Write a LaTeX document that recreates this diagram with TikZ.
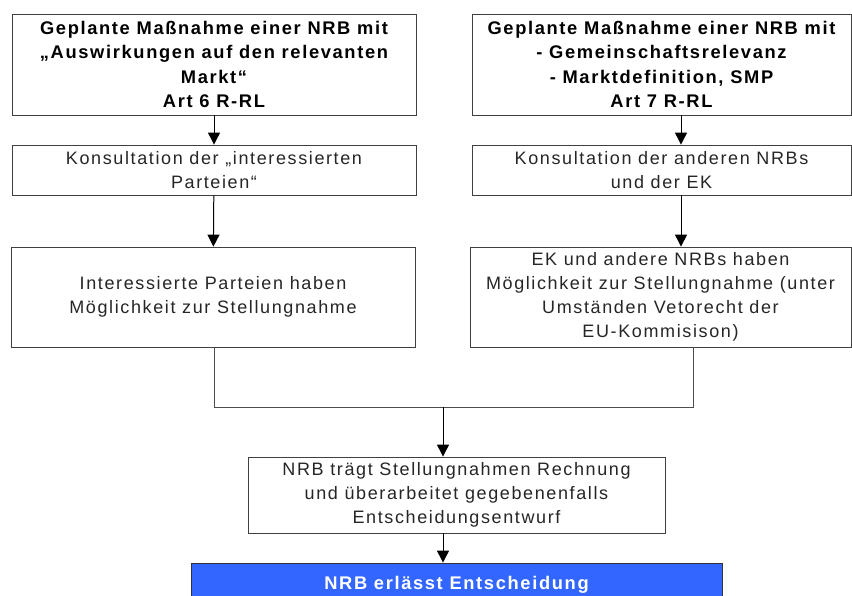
\documentclass[tikz,border=0pt]{standalone}
\usepackage{fontspec}
\usetikzlibrary{arrows.meta}
\newfontfamily\chartfont[LetterSpace=9]{Liberation Sans}
\definecolor{decblue}{RGB}{51,102,255}
\begin{document}
\begin{tikzpicture}[x=1pt,y=-1pt]

\tikzset{box/.style={draw=black!75,line width=0.8pt,fill=white,align=center,inner sep=0pt,
    font=\chartfont\fontsize{18}{24}\selectfont,text=black!85}}
\tikzset{head/.style={box,font=\chartfont\bfseries\fontsize{18.3}{24.3}\selectfont,text=black}}
\tikzset{arr/.style={black,line width=1pt,-{Triangle[width=12pt,length=12pt]}}}
\tikzset{link/.style={black!70,line width=0.8pt}}

\useasboundingbox (0,0) rectangle (852,596);
\clip (0,0) rectangle (852,596);

% Art 6 branch
\path (214,64.5) node[head,minimum width=404,minimum height=101] (art6)
    {Geplante Maßnahme einer NRB mit\\„Auswirkungen auf den relevanten\\Markt“\\Art 6 R-RL};
\path (214,170) node[box,minimum width=404,minimum height=50] (konsL)
    {Konsultation der „interessierten\\Parteien“};
\path (213,297) node[box,minimum width=404,minimum height=100] (stellL)
    {Interessierte Parteien haben\\Möglichkeit zur Stellungnahme};

% Art 7 branch
\path (661.5,64.5) node[head,minimum width=379,minimum height=101] (art7)
    {Geplante Maßnahme einer NRB mit\\- Gemeinschaftsrelevanz\\- Marktdefinition, SMP\\Art 7 R-RL};
\path (661.5,170) node[box,minimum width=379,minimum height=50] (konsR)
    {Konsultation der anderen NRBs\\und der EK};
\path (660.5,297) node[box,minimum width=381,minimum height=100] (stellR)
    {EK und andere NRBs haben\\Möglichkeit zur Stellungnahme (unter\\Umständen Vetorecht der\\EU-Kommisison)};

% common part
\path (456.5,495) node[box,minimum width=417,minimum height=76] (rechnung)
    {NRB trägt Stellungnahmen Rechnung\\und überarbeitet gegebenenfalls\\Entscheidungsentwurf};
\path (456.5,585) node[head,fill=decblue,text=white,draw=black!80,minimum width=531,minimum height=44] (entsch)
    {NRB erlässt Entscheidung};

\coordinate (merge) at (443,407);

\draw[arr] (art6) -- (konsL);
\draw[arr] (konsL) -- (stellL);
\draw[arr] ([xshift=19.5]art7.south) -- ([xshift=19.5]konsR.north);
\draw[arr] ([xshift=19.5]konsR.south) -- ([xshift=20.5]stellR.north);

\draw[link] ([xshift=1]stellL.south) |- (merge);
\draw[link] ([xshift=32.5]stellR.south) |- (merge);
\draw[arr] (merge) -- (merge |- rechnung.north);
\draw[arr] (merge |- rechnung.south) -- (merge |- entsch.north);

\end{tikzpicture}
\end{document}
